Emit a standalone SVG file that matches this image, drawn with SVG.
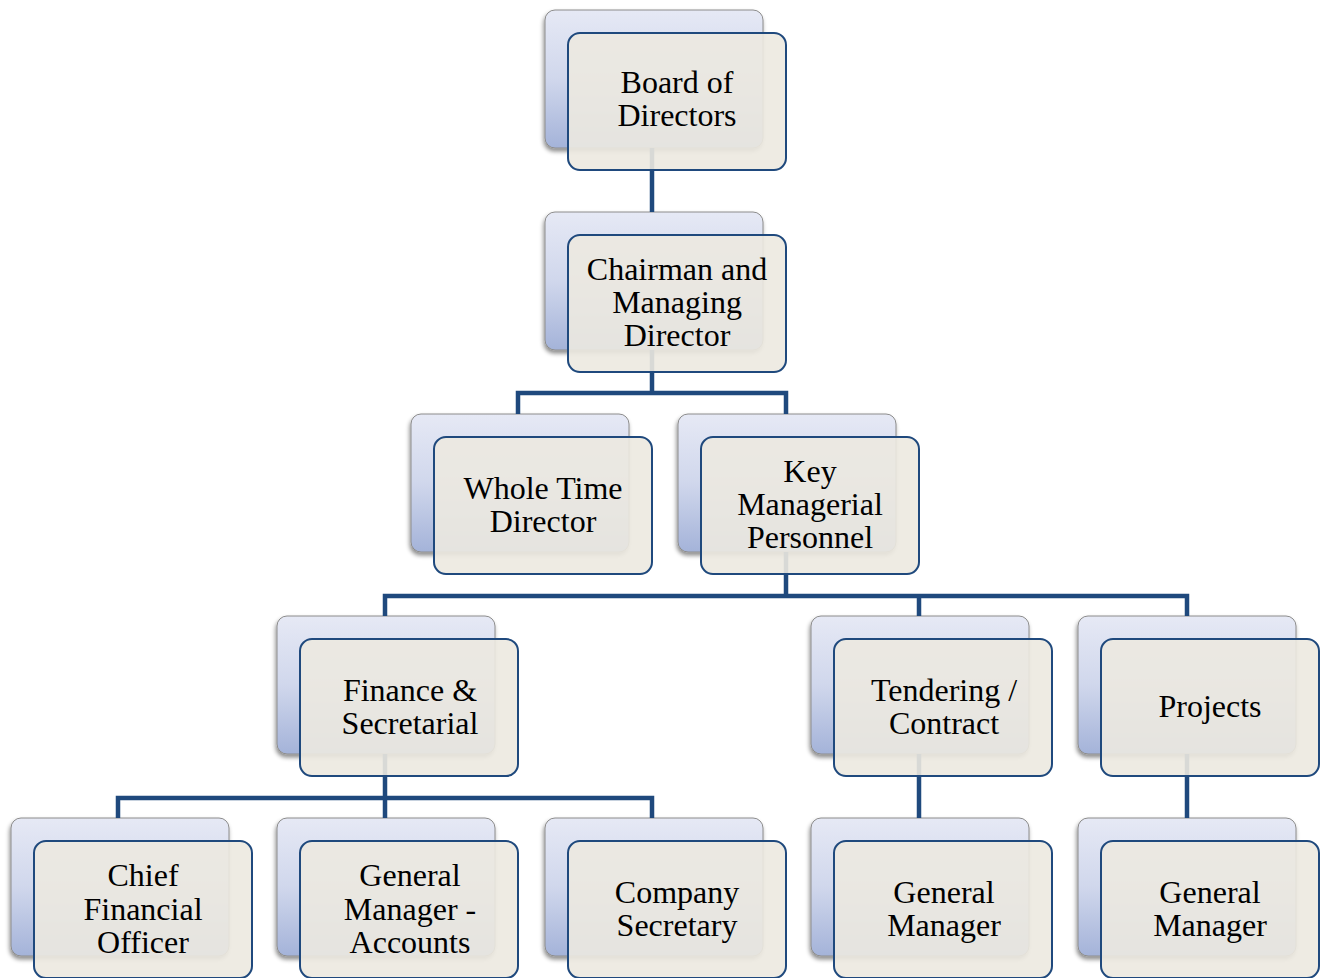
<svg xmlns="http://www.w3.org/2000/svg" width="1325" height="978" viewBox="0 0 1325 978">
<defs>
<linearGradient id="bg" x1="0" y1="0" x2="0" y2="1">
<stop offset="0" stop-color="#e6e9f5"/>
<stop offset="0.5" stop-color="#d0d7ec"/>
<stop offset="1" stop-color="#a4b3d9"/>
</linearGradient>
<filter id="sh" x="-10%" y="-10%" width="125%" height="130%">
<feDropShadow dx="-1" dy="3" stdDeviation="2" flood-color="#000" flood-opacity="0.45"/>
</filter>
</defs>
<style>
.back{fill:url(#bg);stroke:#8c8c8c;stroke-width:1;filter:url(#sh)}
.front{fill:#ece9e0;fill-opacity:0.9;stroke:#1f497d;stroke-width:2}
.conn{fill:none;stroke:#1f497d;stroke-width:4.5;stroke-linejoin:miter}
text{font-family:"Liberation Serif","Times New Roman",serif;font-size:32px;fill:#000;text-anchor:middle}
</style>
<rect width="1325" height="978" fill="#fff"/>
<g id="backs">
<rect class="back" x="545" y="10" width="218" height="138" rx="10"/>
<rect class="back" x="545" y="212" width="218" height="138" rx="10"/>
<rect class="back" x="411" y="414" width="218" height="138" rx="10"/>
<rect class="back" x="678" y="414" width="218" height="138" rx="10"/>
<rect class="back" x="277" y="616" width="218" height="138" rx="10"/>
<rect class="back" x="811" y="616" width="218" height="138" rx="10"/>
<rect class="back" x="1078" y="616" width="218" height="138" rx="10"/>
<rect class="back" x="11" y="818" width="218" height="138" rx="10"/>
<rect class="back" x="277" y="818" width="218" height="138" rx="10"/>
<rect class="back" x="545" y="818" width="218" height="138" rx="10"/>
<rect class="back" x="811" y="818" width="218" height="138" rx="10"/>
<rect class="back" x="1078" y="818" width="218" height="138" rx="10"/>
</g>
<g id="connectors">
<path class="conn" d="M652,148 V212"/>
<path class="conn" d="M652,350 V393 M518,414 V393 H786 V414"/>
<path class="conn" d="M786,552 V596 M385,616 V596 H1187 V616 M919,596 V616"/>
<path class="conn" d="M385,754 V798 M118,818 V798 H652 V818 M385,798 V818"/>
<path class="conn" d="M919,754 V818"/>
<path class="conn" d="M1187,754 V818"/>
</g>
<g id="n-board"><rect class="front" x="568" y="33" width="218" height="137" rx="12"/><text x="677" y="93">Board of</text><text x="677" y="126">Directors</text></g>
<g id="n-chairman"><rect class="front" x="568" y="235" width="218" height="137" rx="12"/><text x="677" y="280">Chairman and</text><text x="677" y="313">Managing</text><text x="677" y="346">Director</text></g>
<g id="n-wtd"><rect class="front" x="434" y="437" width="218" height="137" rx="12"/><text x="543" y="499">Whole Time</text><text x="543" y="532">Director</text></g>
<g id="n-kmp"><rect class="front" x="701" y="437" width="218" height="137" rx="12"/><text x="810" y="482">Key</text><text x="810" y="515">Managerial</text><text x="810" y="548">Personnel</text></g>
<g id="n-finance"><rect class="front" x="300" y="639" width="218" height="137" rx="12"/><text x="410" y="701">Finance &amp;</text><text x="410" y="734">Secretarial</text></g>
<g id="n-tendering"><rect class="front" x="834" y="639" width="218" height="137" rx="12"/><text x="944" y="701">Tendering /</text><text x="944" y="734">Contract</text></g>
<g id="n-projects"><rect class="front" x="1101" y="639" width="218" height="137" rx="12"/><text x="1210" y="717">Projects</text></g>
<g id="n-cfo"><rect class="front" x="34" y="841" width="218" height="137" rx="12"/><text x="143" y="886">Chief</text><text x="143" y="920">Financial</text><text x="143" y="953">Officer</text></g>
<g id="n-gma"><rect class="front" x="300" y="841" width="218" height="137" rx="12"/><text x="410" y="886">General</text><text x="410" y="920">Manager -</text><text x="410" y="953">Accounts</text></g>
<g id="n-cs"><rect class="front" x="568" y="841" width="218" height="137" rx="12"/><text x="677" y="903">Company</text><text x="677" y="936">Secretary</text></g>
<g id="n-gm1"><rect class="front" x="834" y="841" width="218" height="137" rx="12"/><text x="944" y="903">General</text><text x="944" y="936">Manager</text></g>
<g id="n-gm2"><rect class="front" x="1101" y="841" width="218" height="137" rx="12"/><text x="1210" y="903">General</text><text x="1210" y="936">Manager</text></g>
</svg>
